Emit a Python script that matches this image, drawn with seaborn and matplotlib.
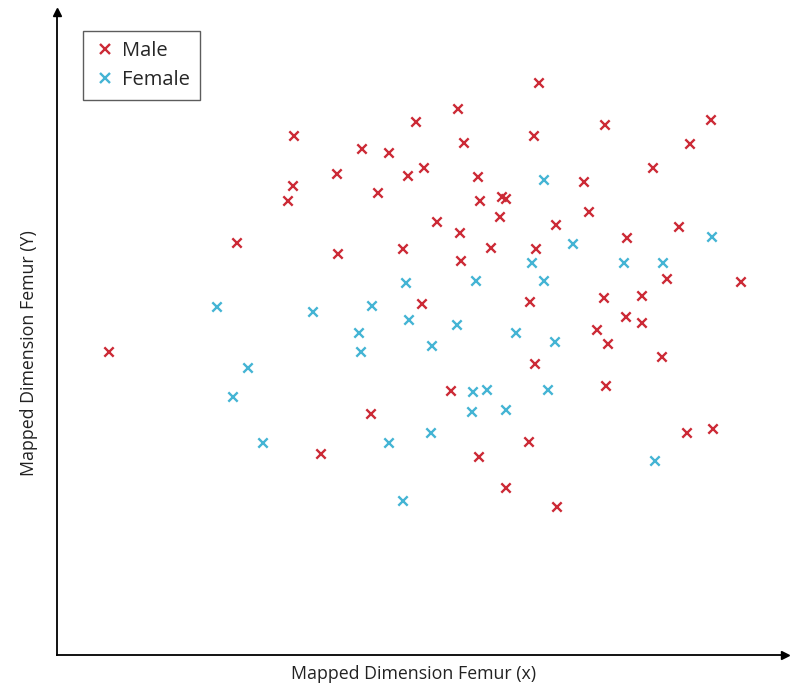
import numpy as np
import matplotlib.pyplot as plt
import seaborn as sns
import pandas as pd

male_x = [539, 458, 416, 605, 711, 294, 534, 464, 362, 389, 690, 337, 424, 408, 478,
          653, 584, 293, 378, 288, 480, 502, 506, 589, 500, 437, 556, 460, 679, 627,
          237, 403, 491, 536, 338, 461, 667, 741, 642, 604, 530, 422, 626, 642, 597,
          608, 662, 535, 109, 451, 606, 371, 687, 713, 529, 479, 321, 506, 557]
male_y = [83, 109, 122, 125, 120, 136, 136, 143, 149, 153, 144, 174, 168, 176, 177,
          168, 182, 186, 193, 201, 201, 197, 199, 212, 217, 222, 225, 233, 227, 238,
          243, 249, 248, 249, 254, 261, 279, 282, 296, 298, 302, 304, 317, 323, 330,
          344, 357, 364, 352, 391, 386, 414, 433, 429, 442, 457, 454, 488, 507]

female_x = [544, 573, 712, 532, 624, 663, 406, 476, 544, 217, 313, 372, 409, 457, 359,
            516, 361, 432, 555, 248, 233, 473, 487, 548, 472, 506, 431, 263, 389, 655, 403]
female_y = [180, 244, 237, 263, 263, 263, 283, 281, 281, 307, 312, 306, 320, 325, 333,
            333, 352, 346, 342, 368, 397, 392, 390, 390, 412, 410, 433, 443, 443, 461, 501]

df = pd.DataFrame({
    "x": male_x + female_x,
    "y": male_y + female_y,
    "sex": ["Male"] * len(male_x) + ["Female"] * len(female_x),
})

sns.set_style("white")
plt.rcParams["font.family"] = ["Open Sans", "DejaVu Sans"]

fig = plt.figure(figsize=(7.94, 6.84), dpi=100)
ax = fig.add_axes([57 / 794, 1 - 655 / 684, 728 / 794, 643 / 684])

sns.scatterplot(data=df, x="x", y="y", hue="sex", marker="x", s=45, linewidth=1.7,
                palette={"Male": "#cc2a36", "Female": "#44b4d4"}, ax=ax)

ax.set_xlim(57, 785)
ax.set_ylim(655, 12)
ax.set_xticks([])
ax.set_yticks([])
for side in ["top", "right"]:
    ax.spines[side].set_visible(False)
for side in ["left", "bottom"]:
    ax.spines[side].set_color("black")
    ax.spines[side].set_linewidth(1.3)

# arrow heads
ax.plot(1, 0, ">k", markersize=6, transform=ax.transAxes, clip_on=False)
ax.plot(0, 1, "^k", markersize=6, transform=ax.transAxes, clip_on=False)

ax.set_xlabel("Mapped Dimension Femur (x)", fontsize=12.8, color="#222222")
ax.set_ylabel("Mapped Dimension Femur (Y)", fontsize=12.8, color="#222222")
ax.xaxis.set_label_coords((414 - 57) / 728, -0.016)
ax.yaxis.set_label_coords(-0.026, (655 - 353) / 643)

handles, labels = ax.get_legend_handles_labels()
leg = ax.legend(handles, labels, loc="upper left", bbox_to_anchor=(83 / 794, 1 - 31 / 684),
                bbox_transform=fig.transFigure, borderaxespad=0, fontsize=14.5,
                frameon=True, fancybox=False, edgecolor="#333333",
                handletextpad=0.25, handlelength=1.2, labelspacing=0.45,
                borderpad=0.5)
leg.get_frame().set_linewidth(1.0)

fig.savefig("out.png", dpi=100)
